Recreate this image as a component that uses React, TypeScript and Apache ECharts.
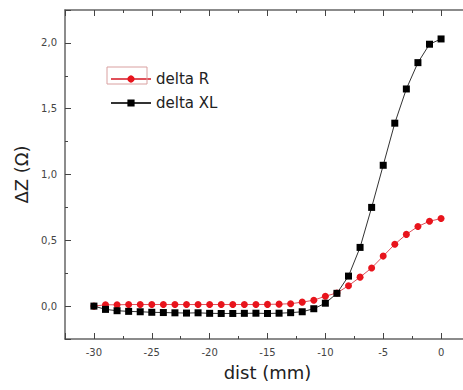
import React, { useEffect, useRef } from "react";
import * as echarts from "echarts";

const dist = [-30, -29, -28, -27, -26, -25, -24, -23, -22, -21, -20, -19, -18, -17, -16, -15, -14, -13, -12, -11, -10, -9, -8, -7, -6, -5, -4, -3, -2, -1, 0];
const deltaR = [0.0, 0.01, 0.01, 0.012, 0.012, 0.012, 0.012, 0.012, 0.012, 0.012, 0.012, 0.012, 0.012, 0.012, 0.012, 0.013, 0.015, 0.018, 0.03, 0.045, 0.075, 0.1, 0.155, 0.22, 0.29, 0.38, 0.47, 0.545, 0.605, 0.645, 0.665];
const deltaXL = [0.0, -0.025, -0.035, -0.04, -0.043, -0.047, -0.049, -0.051, -0.053, -0.051, -0.055, -0.056, -0.056, -0.055, -0.054, -0.056, -0.054, -0.05, -0.043, -0.02, 0.022, 0.097, 0.228, 0.446, 0.75, 1.07, 1.39, 1.65, 1.85, 1.99, 2.03];
const seriesNames = ["delta R", "delta XL"];

const FONT = "DejaVu Sans";
const AXIS_COLOR = "#666";
const TICK_COLOR = "#444";

export default function App() {
  const ref = useRef<HTMLDivElement>(null);
  useEffect(() => {
    if (!ref.current) return;
    const chart = echarts.init(ref.current, null, { renderer: "svg" });
    const xMin = -32.5, xMax = 2.5, yMin = -0.25, yMax = 2.25;
    const majorX = (pos: string, labels: boolean, name?: string) => ({
      type: "value", position: pos, min: xMin, max: xMax, splitNumber: 7, minInterval: 5, maxInterval: 5,
      axisLine: { show: true, onZero: false, lineStyle: { color: AXIS_COLOR, width: 1.5 } },
      axisTick: { show: true, inside: true, length: 6, lineStyle: { color: TICK_COLOR, width: 1 } },
      axisLabel: {
        show: labels, margin: 8, color: "#444", fontSize: 10, fontFamily: FONT,
        formatter: (v: number) => (Math.abs(v % 5) < 1e-9 ? String(v) : ""),
      },
      splitLine: { show: false },
      name: name, nameLocation: "middle", nameGap: 24,
      nameTextStyle: { fontSize: 18, fontFamily: FONT, color: "#222" },
    });
    const minorX = (pos: string) => ({
      type: "value", position: pos, min: xMin, max: xMax, interval: 2.5,
      axisLine: { show: false, onZero: false },
      axisTick: { show: true, inside: true, length: 3, lineStyle: { color: TICK_COLOR, width: 1 } },
      axisLabel: { show: false }, splitLine: { show: false },
    });
    const majorY = (pos: string, labels: boolean, name?: string) => ({
      type: "value", position: pos, min: yMin, max: yMax, splitNumber: 5, minInterval: 0.5, maxInterval: 0.5,
      axisLine: { show: true, onZero: false, lineStyle: { color: AXIS_COLOR, width: 1.5 } },
      axisTick: { show: true, inside: true, length: 6, lineStyle: { color: TICK_COLOR, width: 1 } },
      axisLabel: {
        show: labels, margin: 8, color: "#444", fontSize: 10, fontFamily: FONT,
        formatter: (v: number) => (Math.abs(v * 2 - Math.round(v * 2)) < 1e-9 ? v.toFixed(1).replace(".", ",") : ""),
      },
      splitLine: { show: false },
      name: name, nameLocation: "middle", nameGap: 29, nameRotate: 90,
      nameTextStyle: { fontSize: 18, fontFamily: FONT, color: "#222" },
    });
    const minorY = (pos: string) => ({
      type: "value", position: pos, min: yMin, max: yMax, interval: 0.25,
      axisLine: { show: false, onZero: false },
      axisTick: { show: true, inside: true, length: 3, lineStyle: { color: TICK_COLOR, width: 1 } },
      axisLabel: { show: false }, splitLine: { show: false },
    });
    chart.setOption({
      animation: false,
      backgroundColor: "#fff",
      grid: { left: 65, right: 10, top: 10, bottom: 51, containLabel: false },
      xAxis: [majorX("bottom", true, "dist (mm)"), minorX("bottom"), majorX("top", false), minorX("top")],
      yAxis: [majorY("left", true, "ΔZ (Ω)"), minorY("left")],
      legend: {
        data: seriesNames, orient: "vertical", left: 105, top: 66,
        itemWidth: 40, itemHeight: 9, itemGap: 8,
        textStyle: { fontSize: 15, lineHeight: 16, fontFamily: FONT, color: "#222" },
      },
      graphic: [
        { type: "rect", shape: { x: 107, y: 67, width: 40, height: 17 }, style: { fill: "rgba(0,0,0,0)", stroke: "#d9a0a0", lineWidth: 1 }, z: 10 },
      ],
      series: [
        {
          name: seriesNames[0], type: "line", xAxisIndex: 0, yAxisIndex: 0,
          data: dist.map((d, i) => [d, deltaR[i]]),
          symbol: "circle", symbolSize: 7,
          itemStyle: { color: "#e8141c" },
          lineStyle: { color: "#e0505a", width: 1 },
        },
        {
          name: seriesNames[1], type: "line", xAxisIndex: 0, yAxisIndex: 0,
          data: dist.map((d, i) => [d, deltaXL[i]]),
          symbol: "rect", symbolSize: 7,
          itemStyle: { color: "#000" },
          lineStyle: { color: "#333", width: 1 },
        },
      ],
    });
    return () => chart.dispose();
  }, []);
  return (
    <div style={{ position: "absolute", left: 0, top: 0, width: 463, height: 390, overflow: "hidden" }}>
      <div ref={ref} style={{ width: 480, height: 390 }} />
    </div>
  );
}
